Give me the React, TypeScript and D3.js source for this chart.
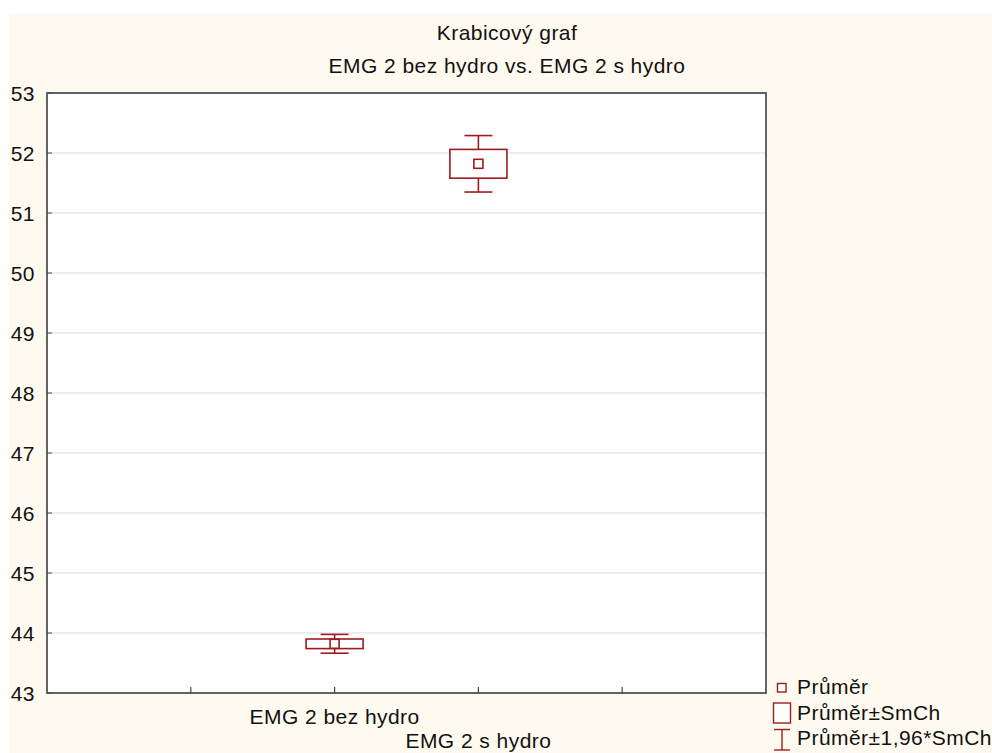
import React from "react";
import * as d3 from "d3";

// Box plot: mean, mean ± SE (box) and mean ± 1.96*SE (whiskers)
const categories = ["EMG 2 bez hydro", "EMG 2 s hydro"];
const categorySlots = [2, 3];
const means = [43.82, 51.82];
const stdErrs = [0.08, 0.24];
const yTicks = [43, 44, 45, 46, 47, 48, 49, 50, 51, 52, 53];
const xTickSlots = [1, 2, 3, 4];
const titleLines = ["Krabicový graf", "EMG 2 bez hydro vs. EMG 2 s hydro"];
const legendLabels = ["Průměr", "Průměr±SmCh", "Průměr±1,96*SmCh"];

const W = 992;
const H = 753;
const plot = { left: 47, top: 93, right: 766, bottom: 693 };
const RED = "#9e1a1e";
const FONT = "'Liberation Sans', Arial, sans-serif";
const FS = 21;
const LS = 0.45;

export default function App() {
  const y = d3.scaleLinear().domain([43, 53]).range([plot.bottom, plot.top]);
  const x = d3.scaleLinear().domain([0, 5]).range([plot.left, plot.right]);
  const boxW = 57;
  const capW = 28;
  const markS = 9;

  return (
    <svg
      width={W}
      height={H}
      style={{ position: "absolute", left: 0, top: 0 }}
      fontFamily={FONT}
    >
      <rect x={0} y={0} width={W} height={H} fill="#ffffff" />
      <rect x={9} y={14} width={W - 9} height={H - 14} fill="#fffaf0" />
      <rect
        x={plot.left}
        y={plot.top}
        width={plot.right - plot.left}
        height={plot.bottom - plot.top}
        fill="#ffffff"
      />
      {/* gridlines */}
      {yTicks.map((t) => (
        <line
          key={"g" + t}
          x1={plot.left}
          x2={plot.right}
          y1={y(t)}
          y2={y(t)}
          stroke="#dcdcdc"
          strokeWidth={1.2}
        />
      ))}
      {/* y ticks + labels */}
      {yTicks.map((t) => (
        <g key={"yt" + t}>
          <line x1={plot.left} x2={plot.left + 5} y1={y(t)} y2={y(t)} stroke="#666" strokeWidth={1.2} />
          <text
            x={35}
            y={y(t)}
            dy="0.36em"
            textAnchor="end"
            fontSize={FS}
            letterSpacing={LS}
            fill="#111"
          >
            {t}
          </text>
        </g>
      ))}
      {/* x ticks */}
      {xTickSlots.map((s) => (
        <line
          key={"xt" + s}
          x1={x(s)}
          x2={x(s)}
          y1={plot.bottom}
          y2={plot.bottom - 6}
          stroke="#444"
          strokeWidth={1.2}
        />
      ))}
      {/* frame */}
      <rect
        x={plot.left}
        y={plot.top}
        width={plot.right - plot.left}
        height={plot.bottom - plot.top}
        fill="none"
        stroke="#4a4a4a"
        strokeWidth={1.7}
      />
      {/* boxes */}
      {categories.map((c, i) => {
        const cx = x(categorySlots[i]);
        const m = means[i];
        const se = stdErrs[i];
        const wTop = y(m + 1.96 * se);
        const wBot = y(m - 1.96 * se);
        const bTop = y(m + se);
        const bBot = y(m - se);
        return (
          <g key={c} stroke={RED} strokeWidth={1.6} fill="none">
            <line x1={cx} x2={cx} y1={wTop} y2={bTop} />
            <line x1={cx} x2={cx} y1={bBot} y2={wBot} />
            <line x1={cx - capW / 2} x2={cx + capW / 2} y1={wTop} y2={wTop} />
            <line x1={cx - capW / 2} x2={cx + capW / 2} y1={wBot} y2={wBot} />
            <rect x={cx - boxW / 2} y={bTop} width={boxW} height={bBot - bTop} fill="#fff" />
            <rect x={cx - markS / 2} y={y(m) - markS / 2} width={markS} height={markS} fill="#fff" />
          </g>
        );
      })}
      {/* category labels (staggered) */}
      {categories.map((c, i) => (
        <text
          key={"xl" + c}
          x={x(categorySlots[i])}
          y={724 + i * 24}
          textAnchor="middle"
          fontSize={FS}
          letterSpacing={LS}
          fill="#111"
        >
          {c}
        </text>
      ))}
      {/* title */}
      {titleLines.map((t, i) => (
        <text
          key={"t" + i}
          x={507}
          y={40 + i * 33}
          textAnchor="middle"
          fontSize={FS}
          letterSpacing={LS}
          fill="#111"
        >
          {t}
        </text>
      ))}
      {/* legend */}
      <g stroke={RED} strokeWidth={1.4} fill="#fff">
        <rect x={777.5} y={683.5} width={8.5} height={8.5} />
        <rect x={773.5} y={703} width={17} height={20} />
        <line x1={782} x2={782} y1={729.5} y2={750} />
        <line x1={774} x2={790} y1={729.5} y2={729.5} />
        <line x1={774} x2={790} y1={750} y2={750} />
      </g>
      {legendLabels.map((l, i) => (
        <text key={"lg" + i} x={797} y={694 + i * 25.5} fontSize={FS} letterSpacing={LS} fill="#111">
          {l}
        </text>
      ))}
    </svg>
  );
}
